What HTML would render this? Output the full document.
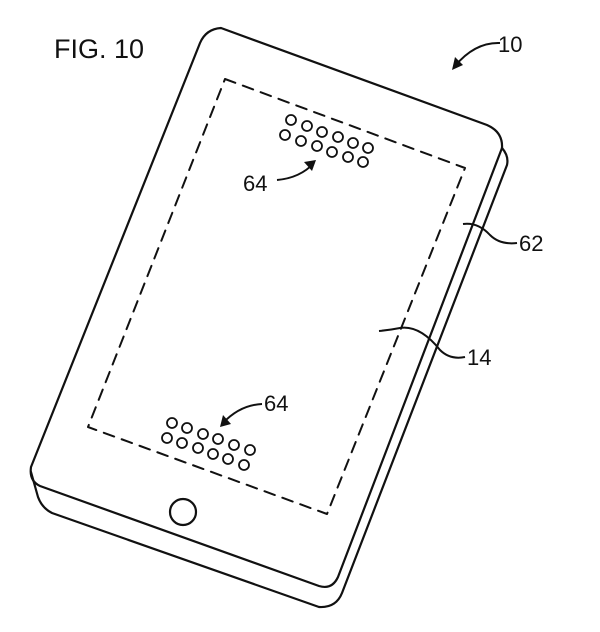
<!DOCTYPE html>
<html><head><meta charset="utf-8"><style>
html,body{margin:0;padding:0;background:#fff}
svg{display:block}
text{font-family:"Liberation Sans",sans-serif;fill:#111}
</style></head><body>
<svg width="600" height="632" viewBox="0 0 600 632" xmlns="http://www.w3.org/2000/svg">
<g fill="none" stroke="#111" stroke-width="2.2" stroke-linejoin="round" stroke-linecap="round">
<!-- front face -->
<path d="M221,28 L487,125 Q503,132 502,148 L338,577 Q332,590 319,586 L40,486 Q29,481 31,467 L200,43 Q206,29 221,28 Z"/>
<!-- side thickness -->
<path d="M502,148 Q509,156 507,165 L342,593 Q336,608 319,607 L52,513 Q42,508 38,497 L31,472"/>
<!-- dashed display -->
<path d="M225,79 L465,168 L327,514 L88,427 Z" stroke-dasharray="11,8" stroke-width="2"/>
<!-- button -->
<circle cx="183" cy="512" r="13"/>
</g>
<g fill="none" stroke="#111" stroke-width="1.8">
<circle cx="291" cy="120" r="5"/><circle cx="307" cy="126" r="5"/><circle cx="322" cy="132" r="5"/><circle cx="338" cy="137" r="5"/><circle cx="353" cy="143" r="5"/><circle cx="368" cy="148" r="5"/>
<circle cx="285" cy="135" r="5"/><circle cx="301" cy="141" r="5"/><circle cx="317" cy="146" r="5"/><circle cx="332" cy="152" r="5"/><circle cx="348" cy="157" r="5"/><circle cx="363" cy="162" r="5"/>
<circle cx="172" cy="423" r="5"/><circle cx="187" cy="428" r="5"/><circle cx="203" cy="434" r="5"/><circle cx="218" cy="439" r="5"/><circle cx="234" cy="445" r="5"/><circle cx="250" cy="450" r="5"/>
<circle cx="167" cy="438" r="5"/><circle cx="182" cy="443" r="5"/><circle cx="198" cy="448" r="5"/><circle cx="213" cy="454" r="5"/><circle cx="228" cy="459" r="5"/><circle cx="244" cy="465" r="5"/>
</g>
<!-- leaders -->
<g fill="none" stroke="#111" stroke-width="2">
<path d="M500,43 Q475,42 455,66"/>
<path d="M277,180 Q300,178 314,163"/>
<path d="M262,404 Q240,405 223,423"/>
<path d="M517,243 Q500,245 490,235 Q478,222 463,224"/>
<path d="M465,357 Q450,360 440,350 Q420,325 400,328 Q390,330 379,331"/>
</g>
<g fill="#111">
<path d="M452,70 L455,57 L463,65 Z"/>
<path d="M316,160 L304,162 L312,171 Z"/>
<path d="M220,427 L223,415 L231,424 Z"/>
</g>
<text x="54" y="58" font-size="27">FIG. 10</text>
<text x="498" y="52" font-size="22">10</text>
<text x="243" y="191" font-size="22">64</text>
<text x="519" y="251" font-size="22">62</text>
<text x="467" y="365" font-size="22">14</text>
<text x="264" y="411" font-size="22">64</text>
</svg>
</body></html>
